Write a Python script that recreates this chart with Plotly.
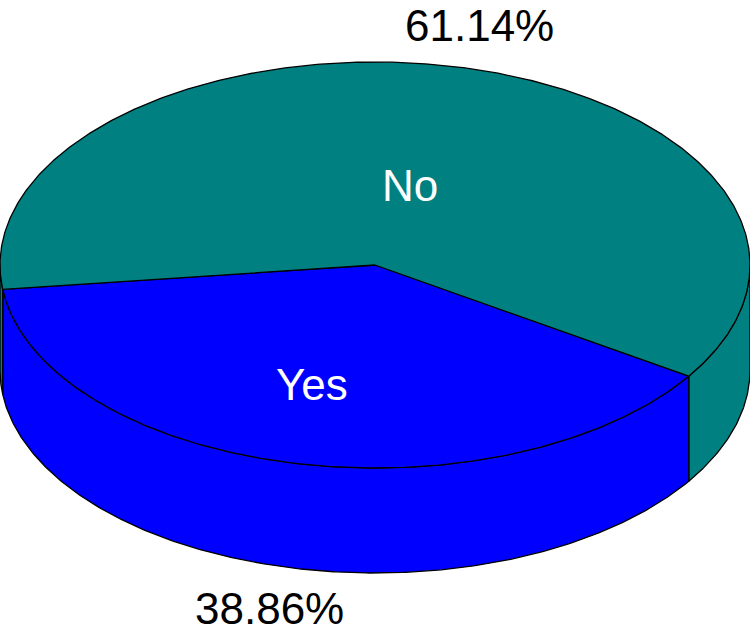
import numpy as np
import plotly.graph_objects as go

labels = ["Yes", "No"]
shares = [38.86, 61.14]
share_text = ["38.86%", "61.14%"]
colors = ["#0000FF", "#008080"]

CX, CY = 375, 265
RX, RY = 375, 203
DEPTH = 105
START = 33.2  # degrees, clockwise on screen from the right
EDGE = dict(color="#000000", width=1.3)


def rim(a0, a1, dy=0):
    t = np.radians(np.linspace(a0, a1, max(2, int(abs(a1 - a0) * 2) + 1)))
    return CX + RX * np.cos(t), CY + dy + RY * np.sin(t)


def add_shape(fig, xs, ys, color):
    fig.add_trace(go.Scatter(x=xs, y=ys, mode="lines", fill="toself", fillcolor=color,
                             line=EDGE, hoverinfo="skip", showlegend=False, cliponaxis=False))


def add_wall(fig, a0, a1, color):
    # only the part of the rim facing the viewer (0..180) gets a wall
    a0, a1 = max(a0, 0), min(a1, 180)
    if a1 <= a0:
        return
    x1, y1 = rim(a0, a1)
    x2, y2 = rim(a1, a0, DEPTH)
    add_shape(fig, np.r_[x1, x2, x1[0]], np.r_[y1, y2, y1[0]], color)


fig = go.Figure()

sweep = [s / sum(shares) * 360 for s in shares]
yes_end = START + sweep[0]

# side walls first, then the top face over them
add_wall(fig, 0, START, colors[1])
add_wall(fig, START, yes_end, colors[0])
add_wall(fig, yes_end, 180, colors[1])

a0 = START
for share_sweep, color in zip(sweep, colors):
    xs, ys = rim(a0, a0 + share_sweep)
    add_shape(fig, np.r_[CX, xs, CX], np.r_[CY, ys, CY], color)
    a0 += share_sweep

fig.add_annotation(x=312, y=384, text=labels[0], showarrow=False, font=dict(color="#FFFFFF"))
fig.add_annotation(x=410, y=185, text=labels[1], showarrow=False, font=dict(color="#FFFFFF"))
fig.add_annotation(x=269, y=608, text=share_text[0], showarrow=False)
fig.add_annotation(x=479, y=25, text=share_text[1], showarrow=False)

fig.update_xaxes(range=[0, 750], visible=False, fixedrange=True)
fig.update_yaxes(range=[633, 0], visible=False, fixedrange=True)
fig.update_layout(
    width=750, height=633,
    margin=dict(l=0, r=0, t=0, b=0),
    paper_bgcolor="#FFFFFF", plot_bgcolor="#FFFFFF",
    font=dict(family="Liberation Sans, Arial, sans-serif", size=44, color="#000000"),
    showlegend=False,
)
# the page's default body margin would push the 750x633 figure off the window
fig.write_html("out.html", config=dict(displayModeBar=False),
               post_script="document.body.style.margin='0';document.body.style.overflow='hidden';")
